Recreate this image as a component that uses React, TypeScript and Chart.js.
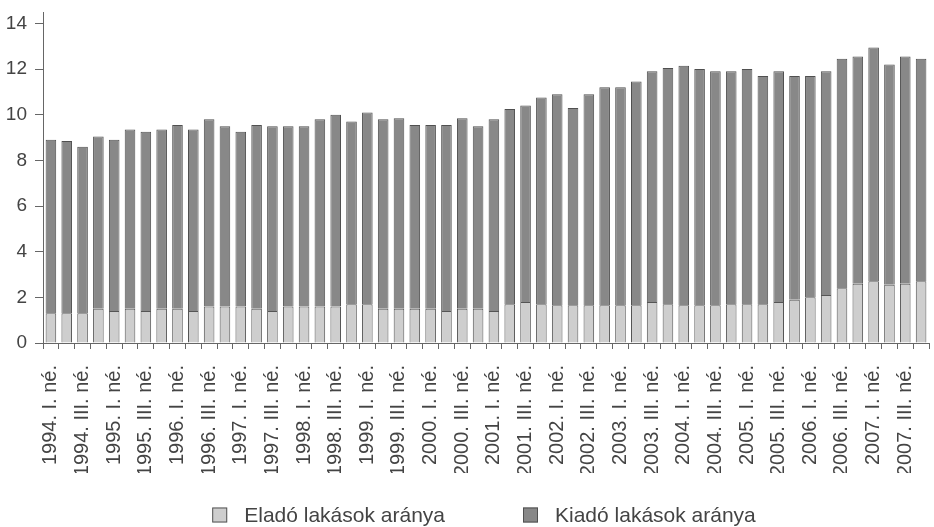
import React, { useEffect, useRef } from "react";
import { Chart, registerables } from "chart.js";

Chart.register(...registerables);

const years = [1994, 1995, 1996, 1997, 1998, 1999, 2000, 2001, 2002, 2003, 2004, 2005, 2006, 2007];
const quarters = ["I", "II", "III", "IV"];
const categories: string[] = [];
years.forEach((y) => quarters.forEach((q) => categories.push(`${y}. ${q}. né.`)));

const eladoValues = [
  1.3, 1.3, 1.3, 1.5, 1.4, 1.5, 1.4, 1.5, 1.5, 1.4,
  1.6, 1.6, 1.6, 1.5, 1.4, 1.6, 1.6, 1.6, 1.6, 1.7,
  1.7, 1.5, 1.5, 1.5, 1.5, 1.4, 1.5, 1.5, 1.4, 1.7,
  1.8, 1.7, 1.65, 1.65, 1.65, 1.65, 1.65, 1.65, 1.8, 1.7,
  1.65, 1.65, 1.65, 1.7, 1.7, 1.7, 1.8, 1.9, 2.0, 2.1,
  2.4, 2.6, 2.7, 2.55, 2.6, 2.7,
];

const kiadoValues = [
  7.6, 7.55, 7.3, 7.55, 7.5, 7.85, 7.85, 7.85, 8.05, 7.95,
  8.2, 7.9, 7.65, 8.05, 8.1, 7.9, 7.9, 8.2, 8.4, 8.0,
  8.4, 8.3, 8.35, 8.05, 8.05, 8.15, 8.35, 8.0, 8.4, 8.55,
  8.6, 9.05, 9.25, 8.65, 9.25, 9.55, 9.55, 9.8, 10.1, 10.35,
  10.5, 10.35, 10.25, 10.2, 10.3, 10.0, 10.1, 9.8, 9.7, 9.8,
  10.05, 9.95, 10.25, 9.65, 9.95, 9.75,
];

const yTicks = [0, 2, 4, 6, 8, 10, 12, 14];

const FONT = "'Liberation Sans', Arial, sans-serif";

// Bottom legend drawn from the chart's own datasets
const bottomLegend = {
  id: "bottomLegend",
  afterDraw(chart: any) {
    const ctx = chart.ctx;
    const area = chart.chartArea;
    const box = 15;
    const textGap = 17;
    const itemGap = 78;
    ctx.save();
    ctx.font = `21px ${FONT}`;
    const items = chart.data.datasets.map((ds: any) => ({
      label: ds.label as string,
      fill: ds.backgroundColor,
      stroke: ds.borderColor,
      w: ctx.measureText(ds.label).width,
    }));
    const total =
      items.reduce((s: number, it: any) => s + box + textGap + it.w, 0) + itemGap * (items.length - 1);
    let x = (area.left + area.right) / 2 - 2 - total / 2;
    const cy = chart.height - 12;
    items.forEach((it: any) => {
      ctx.fillStyle = it.fill;
      ctx.fillRect(x, cy - box / 2, box, box);
      ctx.strokeStyle = it.stroke;
      ctx.lineWidth = 1;
      ctx.strokeRect(x + 0.5, cy - box / 2 + 0.5, box - 1, box - 1);
      ctx.fillStyle = "#444444";
      ctx.textAlign = "left";
      ctx.textBaseline = "middle";
      ctx.fillText(it.label, x + box + textGap, cy + 1);
      x += box + textGap + it.w + itemGap;
    });
    ctx.restore();
  },
};

export default function App() {
  const ref = useRef<HTMLCanvasElement | null>(null);
  useEffect(() => {
    document.body.style.margin = "0";
    const ctx = ref.current!;
    const chart = new Chart(ctx, {
      type: "bar",
      data: {
        labels: categories,
        datasets: [
          {
            label: "Eladó lakások aránya",
            data: eladoValues,
            backgroundColor: "#cecece",
            borderColor: "#555555",
            borderWidth: 1,
            barPercentage: 0.67,
            categoryPercentage: 1,
          },
          {
            label: "Kiadó lakások aránya",
            data: kiadoValues,
            backgroundColor: "#888888",
            borderColor: "#505050",
            borderWidth: 1,
            barPercentage: 0.67,
            categoryPercentage: 1,
          },
        ],
      },
      plugins: [bottomLegend],
      options: {
        animation: false,
        responsive: false,
        maintainAspectRatio: false,
        layout: { padding: { left: 6, right: 5, top: 12, bottom: 54 } },
        plugins: {
          tooltip: { enabled: false },
          legend: { display: false },
        },
        scales: {
          x: {
            stacked: true,
            offset: true,
            afterFit: (scale: any) => {
              scale.paddingLeft = 0;
              scale.paddingRight = 0;
              scale.height = 130;
            },
            grid: {
              display: true,
              drawOnChartArea: false,
              drawTicks: true,
              tickLength: 6,
              color: "#666666",
              offset: true,
            },
            border: { display: true, color: "#666666", width: 1 },
            ticks: {
              autoSkip: false,
              maxRotation: 90,
              minRotation: 90,
              padding: 16,
              color: "#444444",
              font: { family: FONT, size: 20 },
              callback: (_v: any, i: number) => (i % 2 === 0 ? categories[i] : ""),
            },
          },
          y: {
            stacked: true,
            min: 0,
            max: 14.5,
            afterBuildTicks: (scale: any) => {
              scale.ticks = yTicks.map((v) => ({ value: v }));
            },
            afterFit: (scale: any) => {
              scale.paddingTop = 0;
              scale.paddingBottom = 0;
              scale.width = 37;
            },
            grid: {
              display: true,
              drawOnChartArea: false,
              drawTicks: true,
              tickLength: 8,
              color: "#666666",
            },
            border: { display: true, color: "#666666", width: 1 },
            ticks: {
              padding: 8,
              color: "#444444",
              font: { family: FONT, size: 19 },
            },
          },
        },
      },
    });
    return () => chart.destroy();
  }, []);
  return (
    <div style={{ width: 934, height: 527 }}>
      <canvas ref={ref} width={934} height={527} style={{ display: "block" }} />
    </div>
  );
}
